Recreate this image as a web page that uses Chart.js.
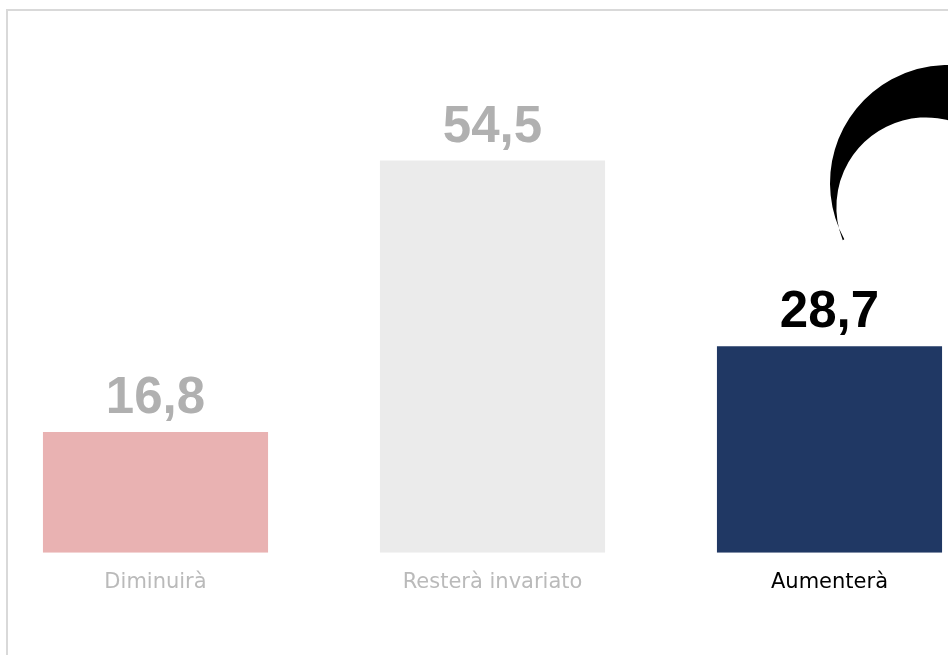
<!DOCTYPE html>
<html>
<head>
    <meta charset="utf-8">
    <title>Aspettative</title>
    <script src="https://cdn.jsdelivr.net/npm/chart.js"></script>
    <style>
        html, body { margin: 0; padding: 0; width: 948px; height: 655px; overflow: hidden; background: #fff; }
        #frame { position: absolute; left: 6px; top: 9px; width: 2000px; height: 2000px; border: 2px solid #d9d9d9; box-sizing: border-box; }
        #wrap { position: absolute; left: -13px; top: 0; width: 1011px; height: 655px; }
    </style>
</head>
<body>
    <div id="frame"></div>
    <div id="wrap"><canvas id="chart"></canvas></div>

    <script>
        // Data
        const categories = ['Diminuirà', 'Resterà invariato', 'Aumenterà'];
        const values = [16.8, 54.5, 28.7];
        const barColors = ['#e9b2b2', '#ebebeb', '#203864'];
        const valueColors = ['#b0b0b0', '#b0b0b0', '#000000'];
        const labelColors = ['#bababa', '#bababa', '#000000'];

        const rad = deg => deg * Math.PI / 180;

        // Value labels above the bars, with comma as decimal separator
        const valueLabels = {
            id: 'valueLabels',
            afterDatasetsDraw(chart) {
                const ctx = chart.ctx;
                const meta = chart.getDatasetMeta(0);
                ctx.save();
                ctx.font = 'bold 51px "Liberation Sans", Arial, sans-serif';
                ctx.textAlign = 'center';
                ctx.textBaseline = 'alphabetic';
                meta.data.forEach((bar, i) => {
                    ctx.fillStyle = valueColors[i];
                    ctx.fillText(values[i].toFixed(1).replace('.', ','), bar.x, bar.y - 19);
                });
                ctx.restore();
            }
        };

        // Black curved arrow shape in the top right corner
        const arrowDeco = {
            id: 'arrowDeco',
            afterDraw(chart) {
                const ctx = chart.ctx;
                const ox = 13; // canvas sits 13px left of the page
                ctx.save();
                ctx.fillStyle = '#000';
                ctx.beginPath();
                ctx.arc(948 + ox, 183, 118, rad(151.5), rad(295), false);
                ctx.arc(926 + ox, 207, 89.6, rad(300), rad(158.3), true);
                ctx.closePath();
                ctx.fill();
                ctx.restore();
            }
        };

        new Chart(document.getElementById('chart'), {
            type: 'bar',
            data: {
                labels: categories,
                datasets: [{
                    data: values,
                    backgroundColor: barColors,
                    borderWidth: 0,
                    categoryPercentage: 1,
                    barPercentage: 0.668
                }]
            },
            options: {
                responsive: true,
                maintainAspectRatio: false,
                animation: false,
                layout: { padding: { top: 121, bottom: 43, left: 0, right: 0 } },
                plugins: {
                    legend: { display: false },
                    tooltip: { enabled: false }
                },
                scales: {
                    x: {
                        grid: { display: false, drawTicks: false },
                        border: { display: false },
                        ticks: {
                            color: ctx => labelColors[ctx.index],
                            font: { family: '"DejaVu Sans"', size: 21, weight: 'normal' },
                            padding: 17
                        }
                    },
                    y: { display: false, min: 0, max: 60 }
                }
            },
            plugins: [valueLabels, arrowDeco]
        });
    </script>
</body>
</html>
